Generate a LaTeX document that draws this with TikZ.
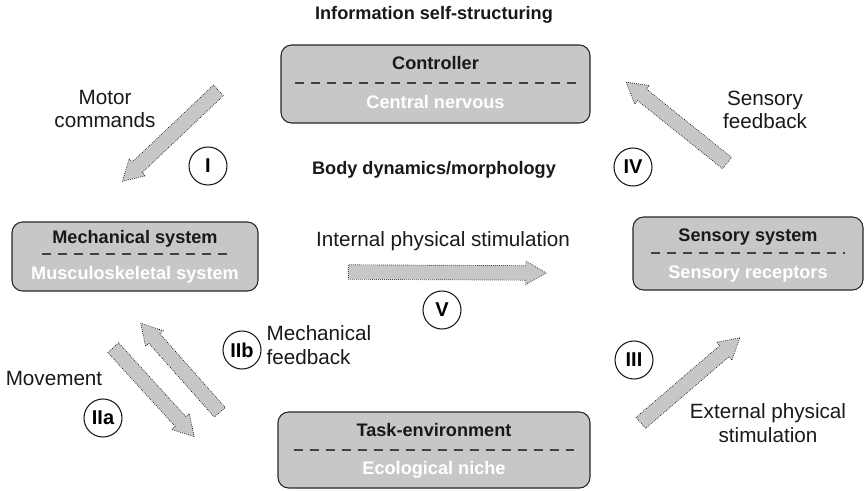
\documentclass[tikz,border=0pt]{standalone}
\usepackage{fontspec}
\setmainfont{Liberation Sans}
\usetikzlibrary{shapes.arrows,calc}

\begin{document}
\begin{tikzpicture}[
    x=0.75pt, y=-0.75pt,
    sysbox/.style={
        rectangle,
        rounded corners=8pt,
        draw=black!85,
        line width=0.8pt,
        fill=black!22
    },
    boxtitle/.style={
        font=\fontsize{13.6}{15}\selectfont\bfseries,
        text=black!90,
        text height=9.7pt,
        text depth=0pt
    },
    boxsub/.style={
        font=\fontsize{13.6}{15}\selectfont\bfseries,
        text=white,
        text height=9.7pt,
        text depth=0pt
    },
    divider/.style={
        draw=black!75,
        line width=1pt,
        dash pattern=on 6.5pt off 5.5pt
    },
    heading/.style={
        font=\fontsize{13.6}{15}\selectfont\bfseries,
        text=black!90
    },
    flowlabel/.style={
        font=\fontsize{15.5}{17.5}\selectfont,
        align=center,
        text=black!90
    },
    stage/.style={
        circle,
        draw=black!90,
        line width=0.8pt,
        minimum size=28.5pt,
        inner sep=0pt,
        font=\fontsize{15}{16}\selectfont\bfseries
    },
    fatarrow/.style={
        single arrow,
        draw=black,
        densely dotted,
        line width=0.5pt,
        fill=black!22,
        single arrow head extend=3.4pt,
        single arrow tip angle=60,
        inner xsep=0pt,
        inner ysep=5.2pt,
        text height=0pt,
        text depth=0pt,
        sloped,
        allow upside down,
        midway,
        minimum height=#1
    }
]

\useasboundingbox (0,0) rectangle (868,490);

% Headings
\node[heading] (info) at (434,15) {Information self-structuring};
\node[heading] (body) at (434,170) {Body dynamics/morphology};

% --- Controller (top) ---
\node[sysbox, minimum width=231.75pt, minimum height=58.5pt] (ctrl) at (435.5,84) {};
\node[boxtitle] (ctrltitle) at (435.5,63) {Controller};
\draw[divider] ($(ctrl.west)+(15,-1)$) -- ($(ctrl.east)+(-15,-1)$);
\node[boxsub] (ctrlsub) at (435.5,102) {Central nervous};

% --- Mechanical system (left) ---
\node[sysbox, minimum width=184.5pt, minimum height=51.75pt] (mech) at (135,256.5) {};
\node[boxtitle] (mechtitle) at (135,237) {Mechanical system};
\draw[divider] ($(mech.west)+(31,-2.5)$) -- ($(mech.east)+(-31,-2.5)$);
\node[boxsub] (mechsub) at (135,273) {Musculoskeletal system};

% --- Sensory system (right) ---
\node[sysbox, minimum width=172.5pt, minimum height=54.75pt] (sens) at (748,253.5) {};
\node[boxtitle] (senstitle) at (748,235) {Sensory system};
\draw[divider] ($(sens.west)+(19,-0.5)$) -- ($(sens.east)+(-19,-0.5)$);
\node[boxsub] (senssub) at (748,272) {Sensory receptors};

% --- Task-environment (bottom) ---
\node[sysbox, minimum width=234pt, minimum height=57pt] (task) at (434,450) {};
\node[boxtitle] (tasktitle) at (434,430) {Task-environment};
\draw[divider] ($(task.west)+(17,0)$) -- ($(task.east)+(-17,0)$);
\node[boxsub] (tasksub) at (434,468) {Ecological niche};

% Fat flow arrows (tail -> tip)
\coordinate (motor-tail) at (223,86);
\coordinate (motor-tip) at (127,177);
\path (motor-tail) -- (motor-tip) node[fatarrow=99.2pt] (motorarr) {};

\coordinate (sfb-tail) at (732,167);
\coordinate (sfb-tip) at (631,86);
\path (sfb-tail) -- (sfb-tip) node[fatarrow=97.1pt] (sfbarr) {};

\coordinate (int-tail) at (342,272);
\coordinate (int-tip) at (540,273);
\path (int-tail) -- (int-tip) node[fatarrow=148.5pt] (intarr) {};

\coordinate (move-tail) at (109,343);
\coordinate (move-tip) at (190,432);
\path (move-tail) -- (move-tip) node[fatarrow=90.3pt] (movearr) {};

\coordinate (mfb-tail) at (224,417);
\coordinate (mfb-tip) at (145,328);
\path (mfb-tail) -- (mfb-tip) node[fatarrow=89.3pt] (mfbarr) {};

\coordinate (ext-tail) at (636,427);
\coordinate (ext-tip) at (735,342);
\path (ext-tail) -- (ext-tip) node[fatarrow=97.9pt] (extarr) {};

% Flow labels
\node[flowlabel] (motor) at (105,109) {Motor\\commands};
\node[flowlabel] (sfb) at (765,110) {Sensory\\feedback};
\node[flowlabel] (int) at (443,241) {Internal physical stimulation};
\node[flowlabel, align=left, anchor=west] (mfb) at (262,345) {Mechanical\\feedback};
\node[flowlabel] (move) at (54,378) {Movement};
\node[flowlabel] (ext) at (768,423) {External physical\\stimulation};

% Stage numbers
\node[stage] (s1) at (208,166) {I};
\node[stage] (s4) at (633,167) {IV};
\node[stage] (s5) at (442,310) {V};
\node[stage] (s2b) at (242,350) {IIb};
\node[stage] (s2a) at (103,418) {IIa};
\node[stage] (s3) at (634,360) {III};

\end{tikzpicture}
\end{document}
